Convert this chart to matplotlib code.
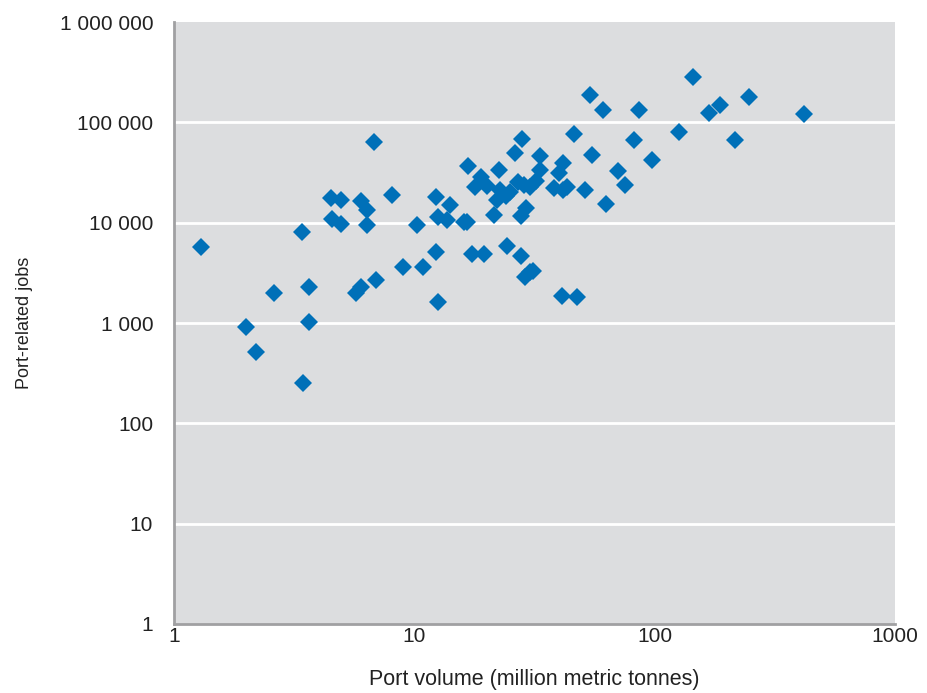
import matplotlib.pyplot as plt
from matplotlib.ticker import FixedLocator, FuncFormatter, NullLocator

# port volume (million metric tonnes)
volume = [1.29, 2.0, 2.2, 2.6, 3.4, 3.45, 3.65, 3.65, 4.5, 4.55,
          4.95, 4.95, 5.7, 6.0, 6.0, 6.35, 6.35, 6.8, 6.9, 8.1,
          9.0, 10.3, 10.9, 12.3, 12.3, 12.5, 12.6, 13.7, 14.1, 16.1,
          16.6, 16.7, 17.3, 17.9, 18.9, 19.5, 20.0, 21.4, 22.0, 22.5,
          22.7, 24.0, 24.3, 25.0, 26.2, 27.0, 27.8, 27.8, 28.1, 28.5,
          28.9, 29.1, 30.2, 30.2, 31.1, 32.1, 33.3, 33.3, 38.0, 40.0,
          41.1, 41.5, 41.5, 43.2, 46.3, 47.6, 51.5, 53.9, 55.0, 61,
          63, 70.5, 75, 82, 86, 97, 126, 145, 169, 187,
          216, 247, 418]

# port-related jobs
jobs = [5700, 920, 510, 2000, 8100, 250, 2300, 1020, 17500, 10900,
        9700, 16800, 2000, 2300, 16500, 13400, 9500, 64000, 2700, 18900,
        3600, 9500, 3600, 18000, 5100, 1620, 11500, 10700, 15000, 10100,
        10100, 36500, 4900, 22500, 28500, 4900, 23000, 11800, 17000, 33500,
        21000, 18500, 5900, 20000, 50000, 25500, 4700, 11700, 69000, 23500,
        2900, 14000, 22500, 3200, 3300, 26000, 46000, 33500, 22000, 31500,
        1870, 39000, 21000, 22500, 76000, 1800, 21000, 188000, 47000, 133000,
        15300, 32500, 24000, 66000, 132000, 42000, 80000, 285000, 124000, 150000,
        66000, 178000, 120000]

x_ticks = [1, 10, 100, 1000]
y_ticks = [1, 10, 100, 1000, 10000, 100000, 1000000]

plt.rcParams['font.family'] = ['Liberation Sans', 'DejaVu Sans']

fig = plt.figure(figsize=(9.28, 6.93), dpi=100)
ax = fig.add_axes([0.1875, 0.0996, 0.777, 0.8686])
ax.set_facecolor('#dcdddf')

ax.set_xscale('log')
ax.set_yscale('log')
ax.set_xlim(1, 1000)
ax.set_ylim(1, 1000000)

for yv in y_ticks[1:-1]:
    ax.axhline(yv, color='white', lw=2, zorder=1)

ax.plot(volume, jobs, 'D', color='#0070b8', markersize=9,
        markeredgewidth=0, zorder=3)

ax.xaxis.set_major_locator(FixedLocator(x_ticks))
ax.yaxis.set_major_locator(FixedLocator(y_ticks))
ax.xaxis.set_minor_locator(NullLocator())
ax.yaxis.set_minor_locator(NullLocator())
ax.xaxis.set_major_formatter(FuncFormatter(lambda v, p: f'{v:.0f}'))
ax.yaxis.set_major_formatter(
    FuncFormatter(lambda v, p: f'{v:,.0f}'.replace(',', ' ')))
ax.tick_params(axis='both', length=0, labelsize=15, colors='#222222')
ax.tick_params(axis='y', pad=15)
ax.tick_params(axis='x', pad=2)

for s in ['top', 'right']:
    ax.spines[s].set_visible(False)
for s in ['left', 'bottom']:
    ax.spines[s].set_color('#a0a0a2')
    ax.spines[s].set_linewidth(2)

ax.set_xlabel('Port volume (million metric tonnes)', fontsize=15.5,
              color='#222222', labelpad=16.5)
ax.set_ylabel('Port-related jobs', fontsize=13, color='#222222',
              labelpad=19)

fig.savefig('out.png', dpi=100)
